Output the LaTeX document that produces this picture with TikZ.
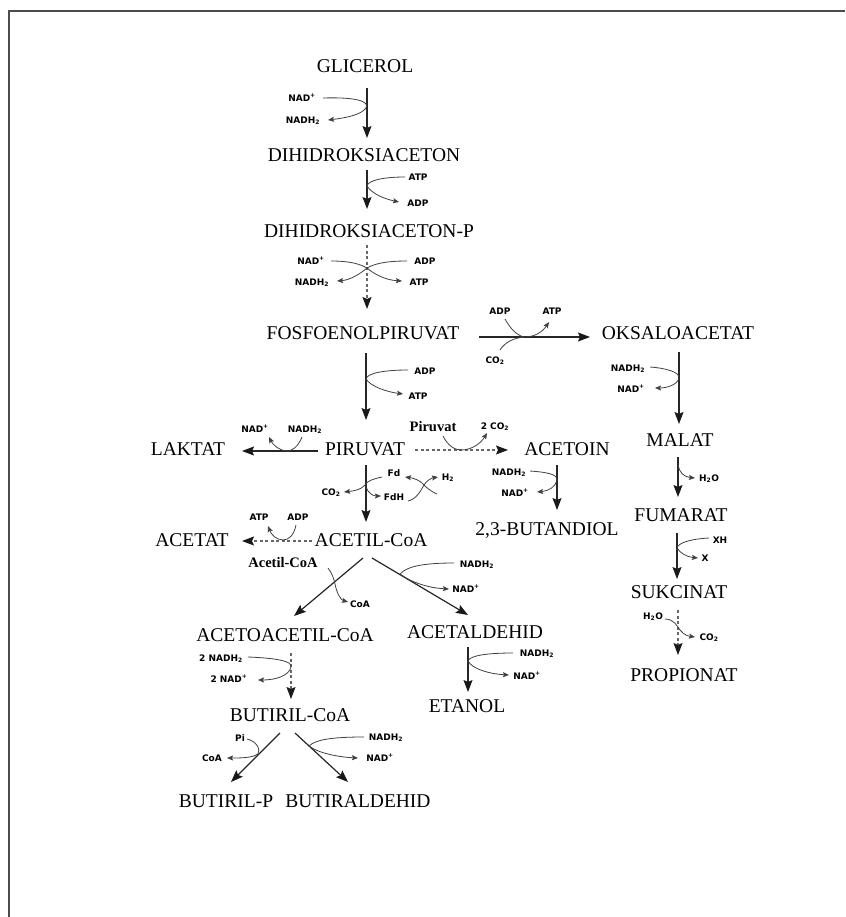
\documentclass[tikz,border=0pt]{standalone}
\usepackage{fontspec}
\setmainfont{Liberation Serif}
\newfontfamily\labfont{DejaVu Sans}
\usetikzlibrary{arrows.meta}
\tikzset{
  mainlbl/.style={font=\fontsize{19.5}{20}\selectfont, inner sep=0pt, text height=12.9pt, text depth=0pt},
  sm/.style={font=\labfont\bfseries\fontsize{9}{10}\selectfont, inner sep=0pt, text height=6.6pt, text depth=0pt},
  bsl/.style={font=\bfseries\fontsize{14.5}{15}\selectfont, inner sep=0pt, text height=9.7pt, text depth=0pt},
  mainarr/.style={draw=black!85, line width=1.2pt, -{Stealth[length=12pt,width=9pt,inset=2pt,color=black!90]}},
  dasharr/.style={mainarr, draw=black!60, dash pattern=on 3pt off 2.5pt},
  sidearr/.style={draw=black!75, line width=0.8pt, -{Stealth[length=6pt,width=5pt,inset=1pt]}},
  sideln/.style={draw=black!75, line width=0.8pt},
}
\begin{document}
\begin{tikzpicture}[x=1pt,y=-1pt]
\useasboundingbox (0,0) rectangle (845,917);
\coordinate (frA) at (9,917); \coordinate (frB) at (9,11); \coordinate (frC) at (845,11);
\draw[line width=1.6pt, black!70] (frA) -- (frB) -- (frC);

% ---------- main nodes ----------
\node[mainlbl] (gli) at (365,66) {GLICEROL};
\node[mainlbl] (dha) at (364,155) {DIHIDROKSIACETON};
\node[mainlbl] (dhap) at (369,231) {DIHIDROKSIACETON-P};
\node[mainlbl] (pep) at (363,333) {FOSFOENOLPIRUVAT};
\node[mainlbl] (oaa) at (678,333) {OKSALOACETAT};
\node[mainlbl] (lak) at (188,449) {LAKTAT};
\node[mainlbl] (pir) at (365,449) {PIRUVAT};
\node[mainlbl] (act) at (567,449) {ACETOIN};
\node[mainlbl] (mal) at (680,440) {MALAT};
\node[mainlbl] (but) at (547,529) {2,3-BUTANDIOL};
\node[mainlbl] (fum) at (681,515) {FUMARAT};
\node[mainlbl] (ace) at (192,540) {ACETAT};
\node[mainlbl] (acoa) at (371,540) {ACETIL-CoA};
\node[mainlbl] (suk) at (679,592) {SUKCINAT};
\node[mainlbl] (aacoa) at (285,635) {ACETOACETIL-CoA};
\node[mainlbl] (ald) at (475,632) {ACETALDEHID};
\node[mainlbl] (pro) at (684,675) {PROPIONAT};
\node[mainlbl] (eta) at (467,706) {ETANOL};
\node[mainlbl] (bcoa) at (290,715) {BUTIRIL-CoA};
\node[mainlbl] (bp) at (226,801) {BUTIRIL-P};
\node[mainlbl] (bald) at (358,801) {BUTIRALDEHID};

% ---------- 1: GLICEROL -> DIHIDROKSIACETON ----------
\coordinate (a1s) at (367,88); \coordinate (a1e) at (367,138);
\draw[mainarr] (a1s) -- (a1e);
\node[sm] (l1a) at (302,98) {NAD\textsuperscript{+}};
\node[sm] (l1b) at (303,120) {NADH\textsubscript{2}};
\coordinate (c1a) at (323,98); \coordinate (c1j) at (366,108); \coordinate (c1b) at (328,120);
\draw[sidearr] (c1a) .. controls (355,97) and (370,101) .. (c1j) .. controls (361,115) and (345,118) .. (c1b);

% ---------- 2: DIHIDROKSIACETON -> DIHIDROKSIACETON-P ----------
\coordinate (a2s) at (367,170); \coordinate (a2e) at (367,209);
\draw[mainarr] (a2s) -- (a2e);
\node[sm] (l2a) at (418,177) {ATP};
\node[sm] (l2b) at (418,203) {ADP};
\coordinate (c2a) at (405,177); \coordinate (c2j) at (367,186); \coordinate (c2b) at (399,202);
\draw[sidearr] (c2a) .. controls (385,177) and (368,180) .. (c2j) .. controls (372,194) and (385,199) .. (c2b);

% ---------- 3: DIHIDROKSIACETON-P -> FOSFOENOLPIRUVAT ----------
\coordinate (a3s) at (367,245); \coordinate (a3e) at (367,309);
\draw[dasharr] (a3s) -- (a3e);
\node[sm] (l3a) at (311,261) {NAD\textsuperscript{+}};
\node[sm] (l3b) at (425,261) {ADP};
\node[sm] (l3c) at (312,282) {NADH\textsubscript{2}};
\node[sm] (l3d) at (419,282) {ATP};
\coordinate (c3j) at (367,268);
\coordinate (c3a) at (331,261); \coordinate (c3b) at (407,261);
\coordinate (c3c) at (337,281); \coordinate (c3d) at (402,281);
\draw[sideln] (c3a) .. controls (350,261) and (360,264) .. (c3j);
\draw[sideln] (c3b) .. controls (385,261) and (374,264) .. (c3j);
\draw[sidearr] (c3j) .. controls (360,274) and (350,280) .. (c3c);
\draw[sidearr] (c3j) .. controls (374,274) and (385,280) .. (c3d);

% ---------- 4: FOSFOENOLPIRUVAT -> OKSALOACETAT ----------
\coordinate (a4s) at (479,337); \coordinate (a4e) at (590,337);
\draw[mainarr] (a4s) -- (a4e);
\node[sm] (l4a) at (500,311) {ADP};
\node[sm] (l4b) at (552,311) {ATP};
\node[sm] (l4c) at (495,360) {CO\textsubscript{2}};
\coordinate (c4j) at (524,337);
\coordinate (c4a) at (505,319); \coordinate (c4c) at (500,350); \coordinate (c4b) at (549,322);
\draw[sideln] (c4a) .. controls (510,328) and (516,335) .. (c4j);
\draw[sideln] (c4c) .. controls (505,342) and (514,338) .. (c4j);
\draw[sidearr] (c4j) .. controls (536,337) and (543,331) .. (c4b);

% ---------- 5: FOSFOENOLPIRUVAT -> PIRUVAT ----------
\coordinate (a5s) at (366,353); \coordinate (a5e) at (366,420);
\draw[mainarr] (a5s) -- (a5e);
\node[sm] (l5a) at (425,371) {ADP};
\node[sm] (l5b) at (418,396) {ATP};
\coordinate (c5a) at (408,370); \coordinate (c5j) at (366,379); \coordinate (c5b) at (403,394);
\draw[sidearr] (c5a) .. controls (385,370) and (367,373) .. (c5j) .. controls (371,387) and (388,392) .. (c5b);

% ---------- 6: PIRUVAT -> LAKTAT ----------
\coordinate (a6s) at (318,451); \coordinate (a6e) at (242,451);
\draw[mainarr] (a6s) -- (a6e);
\node[sm] (l6a) at (255,429) {NAD\textsuperscript{+}};
\node[sm] (l6b) at (305,429) {NADH\textsubscript{2}};
\coordinate (c6a) at (302,437); \coordinate (c6j) at (287,451); \coordinate (c6b) at (269,437);
\draw[sidearr] (c6a) .. controls (298,447) and (292,451) .. (c6j) .. controls (280,451) and (273,445) .. (c6b);

% ---------- 7: PIRUVAT -> ACETOIN ----------
\coordinate (a7s) at (415,450); \coordinate (a7e) at (508,450);
\draw[dasharr] (a7s) -- (a7e);
\node[bsl] (l7a) at (433,427) {Piruvat};
\node[sm] (l7b) at (495,426) {2 CO\textsubscript{2}};
\coordinate (c7a) at (443,436); \coordinate (c7j) at (461,450); \coordinate (c7b) at (487,433);
\draw[sidearr] (c7a) .. controls (448,446) and (455,450) .. (c7j) .. controls (472,450) and (481,443) .. (c7b);

% ---------- 8: ACETOIN -> 2,3-BUTANDIOL ----------
\coordinate (a8s) at (557,465); \coordinate (a8e) at (557,510);
\draw[mainarr] (a8s) -- (a8e);
\node[sm] (l8a) at (509,472) {NADH\textsubscript{2}};
\node[sm] (l8b) at (515,493) {NAD\textsuperscript{+}};
\coordinate (c8a) at (530,471); \coordinate (c8j) at (557,480); \coordinate (c8b) at (537,492);
\draw[sidearr] (c8a) .. controls (545,472) and (558,474) .. (c8j) .. controls (556,487) and (548,491) .. (c8b);

% ---------- 9: OKSALOACETAT -> MALAT ----------
\coordinate (a9s) at (679,352); \coordinate (a9e) at (679,424);
\draw[mainarr] (a9s) -- (a9e);
\node[sm] (l9a) at (628,368) {NADH\textsubscript{2}};
\node[sm] (l9b) at (631,389) {NAD\textsuperscript{+}};
\coordinate (c9a) at (650,367); \coordinate (c9j) at (679,378); \coordinate (c9b) at (655,388);
\draw[sidearr] (c9a) .. controls (665,368) and (680,372) .. (c9j) .. controls (678,384) and (668,388) .. (c9b);

% ---------- 10: MALAT -> FUMARAT ----------
\coordinate (a10s) at (678,457); \coordinate (a10e) at (678,497);
\draw[mainarr] (a10s) -- (a10e);
\node[sm] (l10a) at (709,478) {H\textsubscript{2}O};
\coordinate (c10j) at (678,465); \coordinate (c10b) at (695,478);
\draw[sidearr] (c10j) .. controls (679,472) and (684,477) .. (c10b);

% ---------- 11: FUMARAT -> SUKCINAT ----------
\coordinate (a11s) at (677,533); \coordinate (a11e) at (677,579);
\draw[mainarr] (a11s) -- (a11e);
\node[sm] (l11a) at (720,540) {XH};
\node[sm] (l11b) at (705,558) {X};
\coordinate (c11a) at (709,538); \coordinate (c11j) at (677,548); \coordinate (c11b) at (698,558);
\draw[sidearr] (c11a) .. controls (690,539) and (678,543) .. (c11j) .. controls (680,553) and (687,557) .. (c11b);

% ---------- 12: SUKCINAT -> PROPIONAT ----------
\coordinate (a12s) at (678,610); \coordinate (a12e) at (678,655);
\draw[dasharr] (a12s) -- (a12e);
\node[sm] (l12a) at (653,616) {H\textsubscript{2}O};
\node[sm] (l12b) at (709,637) {CO\textsubscript{2}};
\coordinate (c12a) at (665,619); \coordinate (c12j) at (680,630); \coordinate (c12b) at (695,637);
\draw[sidearr] (c12a) .. controls (674,619) and (677,626) .. (c12j) .. controls (684,635) and (688,636) .. (c12b);

% ---------- 13: PIRUVAT -> ACETIL-CoA ----------
\coordinate (a13s) at (366,465); \coordinate (a13e) at (366,522);
\draw[mainarr] (a13s) -- (a13e);
\node[sm] (l13a) at (394,473) {Fd};
\node[sm] (l13b) at (394,497) {FdH};
\node[sm] (l13c) at (331,492) {CO\textsubscript{2}};
\node[sm] (l13d) at (448,477) {H\textsubscript{2}};
\coordinate (c13a) at (382,477); \coordinate (c13j) at (365,485); \coordinate (c13c) at (344,492);
\draw[sidearr] (c13a) .. controls (373,479) and (367,481) .. (c13j) .. controls (361,490) and (353,491) .. (c13c);
\coordinate (c13k) at (366,487); \coordinate (c13b) at (381,496);
\draw[sidearr] (c13k) .. controls (368,493) and (373,496) .. (c13b);
\coordinate (c13x) at (424,485); \coordinate (c13f) at (408,501); \coordinate (c13h) at (438,477);
\coordinate (c13g) at (437,494); \coordinate (c13e) at (405,477);
\draw[sidearr] (c13f) .. controls (417,499) and (421,490) .. (c13x) .. controls (427,480) and (432,478) .. (c13h);
\draw[sidearr] (c13g) .. controls (430,491) and (426,487) .. (c13x) .. controls (420,480) and (413,478) .. (c13e);

% ---------- 14: ACETIL-CoA -> ACETAT ----------
\coordinate (a14s) at (312,541); \coordinate (a14e) at (242,541);
\draw[dasharr] (a14s) -- (a14e);
\node[sm] (l14a) at (259,517) {ATP};
\node[sm] (l14b) at (298,517) {ADP};
\coordinate (c14a) at (296,525); \coordinate (c14j) at (283,540); \coordinate (c14b) at (268,526);
\draw[sidearr] (c14a) .. controls (294,535) and (289,540) .. (c14j) .. controls (276,540) and (271,534) .. (c14b);

% ---------- 15: ACETIL-CoA -> ACETOACETIL-CoA ----------
\coordinate (a15s) at (363,558); \coordinate (a15e) at (294,616);
\draw[mainarr] (a15s) -- (a15e);
\node[bsl] (l15a) at (283,563) {Acetil-CoA};
\node[sm] (l15b) at (360,604) {CoA};
\coordinate (c15a) at (328,568); \coordinate (c15j) at (335,584); \coordinate (c15b) at (348,602);
\draw[sidearr] (c15a) .. controls (332,573) and (334,579) .. (c15j) .. controls (337,594) and (341,600) .. (c15b);

% ---------- 16: ACETIL-CoA -> ACETALDEHID ----------
\coordinate (a16s) at (372,558); \coordinate (a16e) at (468,615);
\draw[mainarr] (a16s) -- (a16e);
\node[sm] (l16a) at (477,564) {NADH\textsubscript{2}};
\node[sm] (l16b) at (466,589) {NAD\textsuperscript{+}};
\coordinate (c16a) at (454,563); \coordinate (c16j) at (400,574); \coordinate (c16b) at (449,589);
\draw[sidearr] (c16a) .. controls (425,563) and (407,566) .. (c16j) .. controls (412,583) and (430,588) .. (c16b);

% ---------- 17: ACETOACETIL-CoA -> BUTIRIL-CoA ----------
\coordinate (a17s) at (291,653); \coordinate (a17e) at (291,699);
\draw[dasharr] (a17s) -- (a17e);
\node[sm] (l17a) at (221,658) {2 NADH\textsubscript{2}};
\node[sm] (l17b) at (229,679) {2 NAD\textsuperscript{+}};
\coordinate (c17a) at (248,657); \coordinate (c17j) at (291,667); \coordinate (c17b) at (258,680);
\draw[sidearr] (c17a) .. controls (275,658) and (293,661) .. (c17j) .. controls (289,676) and (275,680) .. (c17b);

% ---------- 18: ACETALDEHID -> ETANOL ----------
\coordinate (a18s) at (468,647); \coordinate (a18e) at (468,692);
\draw[mainarr] (a18s) -- (a18e);
\node[sm] (l18a) at (537,653) {NADH\textsubscript{2}};
\node[sm] (l18b) at (527,676) {NAD\textsuperscript{+}};
\coordinate (c18a) at (513,653); \coordinate (c18j) at (468,661); \coordinate (c18b) at (509,675);
\draw[sidearr] (c18a) .. controls (490,653) and (470,655) .. (c18j) .. controls (472,669) and (490,674) .. (c18b);

% ---------- 19: BUTIRIL-CoA -> BUTIRIL-P ----------
\coordinate (a19s) at (280,733); \coordinate (a19e) at (231,782);
\draw[mainarr] (a19s) -- (a19e);
\node[sm] (l19a) at (240,738) {Pi};
\node[sm] (l19b) at (212,758) {CoA};
\coordinate (c19a) at (247,739); \coordinate (c19j) at (258,754); \coordinate (c19b) at (227,758);
\draw[sidearr] (c19a) .. controls (256,741) and (261,749) .. (c19j) .. controls (252,758) and (240,758) .. (c19b);

% ---------- 20: BUTIRIL-CoA -> BUTIRALDEHID ----------
\coordinate (a20s) at (295,733); \coordinate (a20e) at (348,782);
\draw[mainarr] (a20s) -- (a20e);
\node[sm] (l20a) at (386,737) {NADH\textsubscript{2}};
\node[sm] (l20b) at (380,758) {NAD\textsuperscript{+}};
\coordinate (c20a) at (364,737); \coordinate (c20j) at (309,746); \coordinate (c20b) at (358,758);
\draw[sidearr] (c20a) .. controls (330,737) and (315,740) .. (c20j) .. controls (318,753) and (338,757) .. (c20b);
\end{tikzpicture}
\end{document}
